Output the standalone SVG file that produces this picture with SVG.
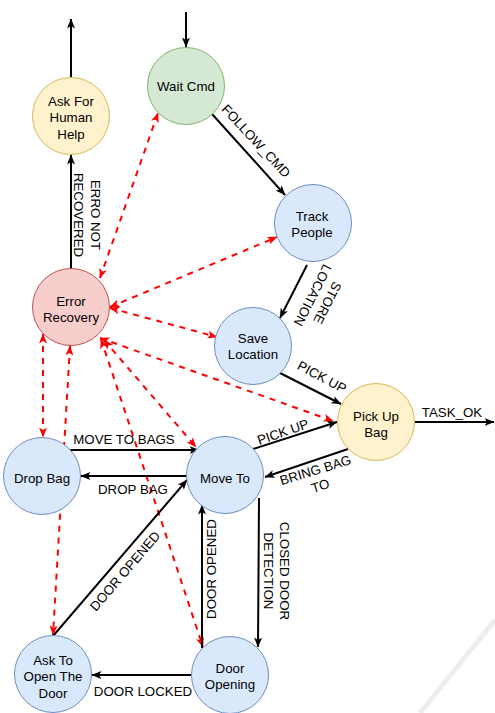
<svg xmlns="http://www.w3.org/2000/svg" width="495" height="713" viewBox="0 0 495 713">
<defs>
<marker id="ab" viewBox="0 0 10 8" markerWidth="10" markerHeight="8" refX="9.5" refY="4" orient="auto-start-reverse" markerUnits="userSpaceOnUse"><path d="M0,0 L10,4 L0,8 L2.5,4 z" fill="#000"/></marker>
<marker id="ar" viewBox="0 0 10 8" markerWidth="10" markerHeight="8" refX="9.5" refY="4" orient="auto-start-reverse" markerUnits="userSpaceOnUse"><path d="M0,0 L10,4 L0,8 L2.5,4 z" fill="#ff0000"/></marker>
<style>
.e{fill:none;stroke:#000;stroke-width:2;marker-end:url(#ab)}
.r{fill:none;stroke:#ff0000;stroke-width:2;stroke-dasharray:6 6;marker-start:url(#ar);marker-end:url(#ar)}
.t{font-family:"Liberation Sans",Arial,sans-serif;font-size:13.3px;fill:#000;text-anchor:middle}
.blue{fill:#dae8fc;stroke:#6c8ebf;stroke-width:1}
.green{fill:#d5e8d4;stroke:#82b366;stroke-width:1}
.yellow{fill:#fff2cc;stroke:#d6b656;stroke-width:1}
.red{fill:#f8cecc;stroke:#b85450;stroke-width:1}
</style>
</defs>
<rect width="495" height="713" fill="#fff"/>
<line x1="495" y1="620" x2="420" y2="713" stroke="#ededed" stroke-width="5"/>
<g id="connectors">
<path class="r" d="M100,278 L158,113"/>
<path class="r" d="M110,307 L277,237"/>
<path class="r" d="M110,308 L217,337"/>
<path class="r" d="M100,338 L333,421"/>
<path class="r" d="M104,340 L196,447"/>
<path class="r" d="M101,339 L203,647"/>
<path class="r" d="M43,334 L43,437"/>
<path class="r" d="M70,346 L53,635"/>
<path class="e" d="M186,12 L186,47"/>
<path class="e" d="M71,77 L71,19"/>
<path class="e" d="M71,269 L71,155"/>
<path class="e" d="M212,114 L285,195"/>
<path class="e" d="M307,265 L280,318"/>
<path class="e" d="M280,373 L341,404"/>
<path class="e" d="M414,422 L494,422"/>
<path class="e" d="M253,449 L337,422"/>
<path class="e" d="M348,449 L265,477"/>
<path class="e" d="M69,450 L199,450"/>
<path class="e" d="M187,476 L81,476"/>
<path class="e" d="M53,636 L187,480"/>
<path class="e" d="M202,648 L202,505"/>
<path class="e" d="M259,498 L258,647"/>
<path class="e" d="M192,675 L92,675"/>
</g>
<g id="wait-cmd"><circle class="green" cx="186" cy="86" r="38.5"/><text class="t" x="186" y="90.5">Wait Cmd</text></g>
<g id="ask-human-help"><circle class="yellow" cx="71" cy="116" r="38.5"/><text class="t" x="71" y="105.5">Ask For</text><text class="t" x="71" y="122">Human</text><text class="t" x="71" y="138.5">Help</text></g>
<g id="track-people"><circle class="blue" cx="313" cy="223" r="38.5"/><text class="t" x="312" y="220.5">Track</text><text class="t" x="312" y="237">People</text></g>
<g id="error-recovery"><circle class="red" cx="71" cy="307" r="38.5"/><text class="t" x="71" y="305.5">Error</text><text class="t" x="71" y="322">Recovery</text></g>
<g id="save-location"><circle class="blue" cx="253" cy="346" r="38.5"/><text class="t" x="253" y="342.5">Save</text><text class="t" x="253" y="359">Location</text></g>
<g id="pick-up-bag"><circle class="yellow" cx="376" cy="422" r="38.5"/><text class="t" x="376" y="420.5">Pick Up</text><text class="t" x="376" y="437">Bag</text></g>
<g id="drop-bag"><circle class="blue" cx="42" cy="476" r="38.5"/><text class="t" x="42" y="482.5">Drop Bag</text></g>
<g id="move-to"><circle class="blue" cx="225" cy="475" r="38.5"/><text class="t" x="225" y="482.5">Move To</text></g>
<g id="door-opening"><circle class="blue" cx="230" cy="675" r="38.5"/><text class="t" x="230" y="672.5">Door</text><text class="t" x="230" y="689">Opening</text></g>
<g id="ask-open-door"><circle class="blue" cx="53" cy="674" r="38.5"/><text class="t" x="53" y="664.5">Ask To</text><text class="t" x="53" y="681">Open The</text><text class="t" x="53" y="697.5">Door</text></g>
<g id="labels">
<text class="t" transform="translate(87,215) rotate(90)"><tspan x="0" y="-3.7">ERRO NOT</tspan><tspan x="0" y="12.8">RECOVERED</tspan></text>
<text class="t" transform="translate(256,141) rotate(47)" y="4.6">FOLLOW_CMD</text>
<text class="t" transform="translate(320,299) rotate(117)"><tspan x="0" y="-3.7">STORE</tspan><tspan x="0" y="12.8">LOCATION</tspan></text>
<text class="t" transform="translate(322,377) rotate(28)" y="4.6">PICK UP</text>
<text class="t" x="452" y="416.6">TASK_OK</text>
<text class="t" transform="translate(283,432) rotate(-19)" y="4.6">PICK UP</text>
<text class="t" transform="translate(318,478) rotate(-17)"><tspan x="0" y="-3.7">BRING BAG</tspan><tspan x="0" y="12.8">TO</tspan></text>
<text class="t" x="124" y="443.6">MOVE TO BAGS</text>
<text class="t" x="133" y="493.6">DROP BAG</text>
<text class="t" transform="translate(125,571) rotate(-49.5)" y="4.6">DOOR OPENED</text>
<text class="t" transform="translate(211,569) rotate(-90)" y="4.6">DOOR OPENED</text>
<text class="t" transform="translate(276.5,571) rotate(90)"><tspan x="0" y="-3.7">CLOSED DOOR</tspan><tspan x="0" y="12.8">DETECTION</tspan></text>
<text class="t" x="143" y="695.6">DOOR LOCKED</text>
</g>
</svg>
